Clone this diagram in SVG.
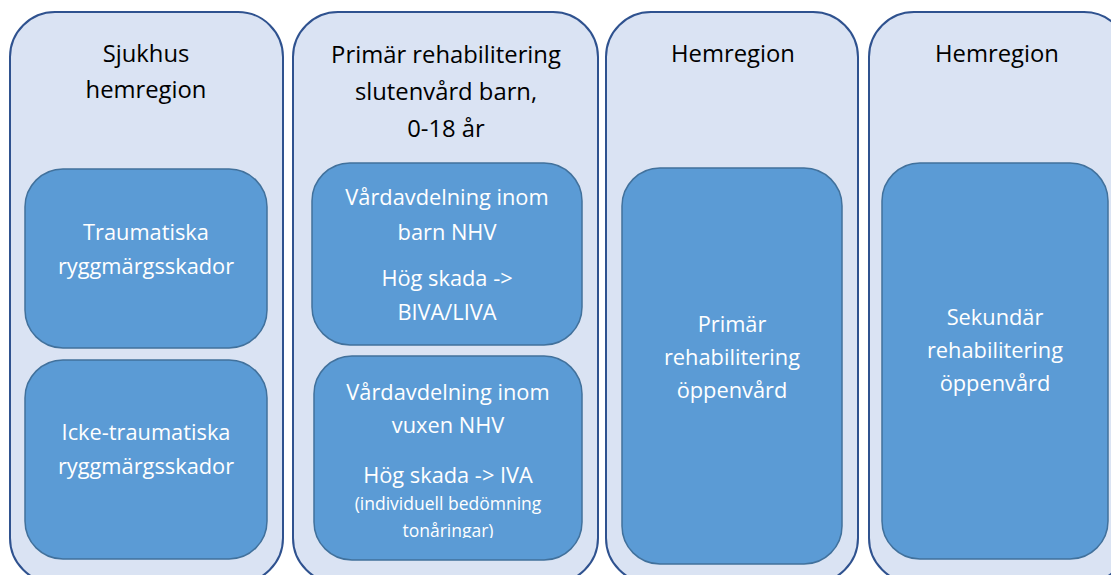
<svg xmlns="http://www.w3.org/2000/svg" width="1111" height="575" viewBox="0 0 1111 575">
<defs>
<style>
.outer{fill:#DAE3F3;stroke:#2F528F;stroke-width:2}
.inner{fill:#5B9BD5;stroke:#41719C;stroke-width:1.5}
.title{font-family:"Open Sans","Liberation Sans",sans-serif;font-size:23.8px;fill:#000;text-anchor:middle}
.lbl{font-family:"Open Sans","Liberation Sans",sans-serif;font-size:21.8px;fill:#fff;text-anchor:middle}
.small{font-family:"Open Sans","Liberation Sans",sans-serif;font-size:17.5px;fill:#fff;text-anchor:middle}
</style>
<clipPath id="clipTon"><rect x="300" y="350" width="300" height="188"/></clipPath>
</defs>
<rect width="1111" height="575" fill="#fff"/>
<g id="col1">
<rect class="outer" x="10" y="12" width="273" height="571" rx="45"/>
<text class="title" x="146" y="62">Sjukhus</text>
<text class="title" x="146" y="98">hemregion</text>
</g>
<g id="n-traumatiska">
<rect class="inner" x="25" y="169" width="242" height="179" rx="38"/>
<text class="lbl" x="146" y="240">Traumatiska</text>
<text class="lbl" x="146" y="274">ryggmärgsskador</text>
</g>
<g id="n-icke">
<rect class="inner" x="25" y="360" width="242" height="199" rx="38"/>
<text class="lbl" x="146" y="440">Icke-traumatiska</text>
<text class="lbl" x="146" y="474">ryggmärgsskador</text>
</g>
<g id="col2">
<rect class="outer" x="293" y="12" width="305" height="571" rx="45"/>
<text class="title" x="446" y="63">Primär rehabilitering</text>
<text class="title" x="446" y="100">slutenvård barn,</text>
<text class="title" x="446" y="137">0-18 år</text>
</g>
<g id="n-barn">
<rect class="inner" x="312" y="163" width="270" height="182" rx="38"/>
<text class="lbl" x="447" y="205">Vårdavdelning inom</text>
<text class="lbl" x="447" y="240">barn NHV</text>
<text class="lbl" x="447" y="286">Hög skada -&gt;</text>
<text class="lbl" x="447" y="320">BIVA/LIVA</text>
</g>
<g id="n-vuxen">
<rect class="inner" x="314" y="356" width="268" height="204" rx="38"/>
<text class="lbl" x="448" y="400">Vårdavdelning inom</text>
<text class="lbl" x="448" y="433">vuxen NHV</text>
<text class="lbl" x="448" y="483">Hög skada -&gt; IVA</text>
<g clip-path="url(#clipTon)">
<text class="small" x="448" y="510">(individuell bedömning</text>
<text class="small" x="448" y="537">tonåringar)</text>
</g>
</g>
<g id="col3">
<rect class="outer" x="606" y="12" width="252" height="571" rx="45"/>
<text class="title" x="733" y="62">Hemregion</text>
</g>
<g id="n-primar">
<rect class="inner" x="622" y="168" width="220" height="396" rx="38"/>
<text class="lbl" x="732" y="332">Primär</text>
<text class="lbl" x="732" y="365">rehabilitering</text>
<text class="lbl" x="732" y="398">öppenvård</text>
</g>
<g id="col4">
<rect class="outer" x="869" y="12" width="260" height="571" rx="45"/>
<text class="title" x="997" y="62">Hemregion</text>
</g>
<g id="n-sekundar">
<rect class="inner" x="882" y="163" width="226" height="396" rx="38"/>
<text class="lbl" x="995" y="325">Sekundär</text>
<text class="lbl" x="995" y="358">rehabilitering</text>
<text class="lbl" x="995" y="391">öppenvård</text>
</g>
<g id="connectors"></g>
</svg>
